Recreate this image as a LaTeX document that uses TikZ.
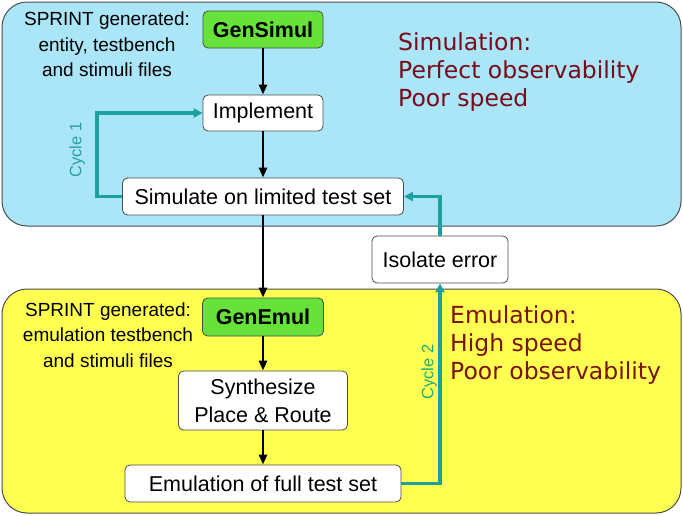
\documentclass[tikz,border=0pt]{standalone}
\usepackage{fontspec}
\setmainfont{Liberation Sans}
\newfontfamily\tfont{DejaVu Sans}
\usetikzlibrary{arrows.meta}
\definecolor{panelblue}{RGB}{170,230,248}
\definecolor{panelyellow}{RGB}{255,255,82}
\definecolor{gengreen}{RGB}{102,226,58}
\definecolor{cycteal}{RGB}{30,160,160}
\definecolor{cyclab1}{RGB}{40,160,160}
\definecolor{cyclab2}{RGB}{30,175,120}
\definecolor{darkred}{RGB}{120,10,25}
\definecolor{darkbrown}{RGB}{120,20,10}
\begin{document}
\begin{tikzpicture}[x=1pt,y=-1pt,
  panel/.style={draw=black!70, line width=1pt, rounded corners=25pt},
  stepbox/.style={draw=black!70, fill=white, rounded corners=5pt, line width=0.8pt,
    font=\fontsize{21.5}{28}\selectfont, inner sep=0pt, align=center},
  genbox/.style={stepbox, fill=gengreen, font=\fontsize{21.5}{28}\selectfont\bfseries},
  flow/.style={-{Triangle[length=10pt,width=8pt]}, line width=2.6pt},
  cyc/.style={-{Triangle[length=9pt,width=9pt]}, line width=3.4pt, draw=cycteal},
  note/.style={font=\fontsize{19}{25.5}\selectfont, align=center},
  big/.style={font=\tfont\fontsize{23.5}{28}\selectfont, align=left, anchor=north west, inner sep=0pt},
  cyclab/.style={font=\fontsize{16.5}{18}\selectfont, rotate=90}
]
\useasboundingbox (0,0) rectangle (683,515);
\draw[panel, fill=panelblue] (2,2) rectangle (681,226);
\draw[panel, fill=panelyellow] (2,289) rectangle (681,513);

\node[genbox, minimum width=120pt, minimum height=37pt] (gensim) at (263,29.5) {GenSimul};
\node[stepbox, minimum width=120pt, minimum height=36pt] (impl) at (263,113) {Implement};
\node[stepbox, minimum width=281pt, minimum height=37pt] (sim) at (263,196.5) {Simulate on limited test set};
\node[genbox, minimum width=121pt, minimum height=38pt] (genemu) at (263,317) {GenEmul};
\node[stepbox, minimum width=169pt, minimum height=59pt] (syn) at (263,400.5) {Synthesize\\Place \& Route};
\node[stepbox, minimum width=276pt, minimum height=37pt] (emu) at (263,483.5) {Emulation of full test set};
\node[stepbox, minimum width=136pt, minimum height=47pt] (iso) at (440,259.5) {Isolate error};

\node[note] (n1) at (107,44.5) {SPRINT generated:\\entity, testbench\\and stimuli files};
\node[note] (n2) at (108,335) {SPRINT generated:\\emulation testbench\\and stimuli files};

\node[big, text=darkred] (simtxt) at (398,32) {Simulation:\\Perfect observability\\Poor speed};
\node[big, text=darkbrown] (emutxt) at (450,305) {Emulation:\\High speed\\Poor observability};

\draw[flow] (gensim) -- (impl);
\draw[flow] (impl) -- (sim);
\draw[flow] (sim) -- (genemu);
\draw[flow] (genemu) -- (syn);
\draw[flow] (syn) -- (emu);

\draw[cyc] (sim.west) -- ++(-25,0) coordinate (c1) |- (impl.west);
\draw[cyc] (emu.east) -| (iso.south);
\draw[cyc] (iso.north) |- (sim.east);

\node[cyclab, text=cyclab1] (l1) at (77,150) {Cycle 1};
\node[cyclab, text=cyclab2] (l2) at (429,372) {Cycle 2};
\end{tikzpicture}
\end{document}
